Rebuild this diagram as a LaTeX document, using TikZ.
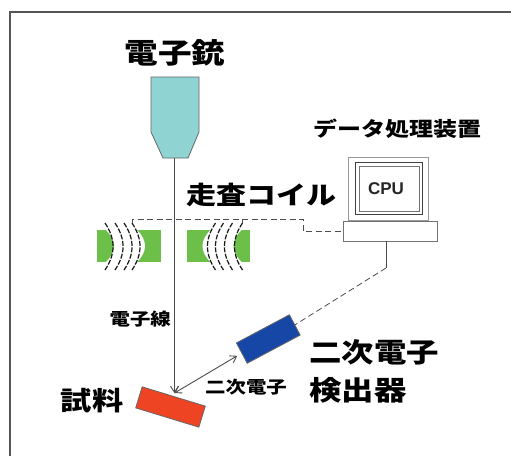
\documentclass[tikz,border=0pt]{standalone}
\usepackage{fontspec}
\usetikzlibrary{arrows.meta}
\setmainfont{Liberation Sans}
\newfontfamily\jp[FakeStretch=1.2]{Noto Sans CJK JP}
\definecolor{gunfill}{HTML}{8FD3D3}
\definecolor{coilgreen}{HTML}{6CC04A}
\definecolor{detblue}{HTML}{1747A6}
\definecolor{samplered}{HTML}{EE4423}
\definecolor{framegray}{HTML}{555555}
\begin{document}
\begin{tikzpicture}[x=1pt,y=-1pt,
  jpt/.style={font=\jp\bfseries\fontsize{#1}{#1}\selectfont, inner sep=0pt},
  wire/.style={draw=black!70, line width=0.8pt, dash pattern=on 6pt off 3.5pt},
  beam/.style={draw=black!70, line width=0.9pt},
  barb/.tip={Straight Barb[length=6pt,width=8pt]},
  coilarc/.style={draw=black!90, line width=1.2pt, dash pattern=on 5pt off 1.5pt},
  box/.style={draw=black!60, line width=0.8pt, inner sep=0pt},
]
\useasboundingbox (0,0) rectangle (511,455);
\fill[white] (0,0) rectangle (511,455);
\draw[framegray, line width=1.5pt] (10,456) -- (10,12) -- (512,12);

% electron gun
\draw[fill=gunfill, draw=black!60, line width=0.8pt]
  (151,77) -- (199,77) -- (199,132) -- (188,158) -- (163,158) -- (151,132) -- cycle;
\coordinate (gunout) at (174.5,158);
\node[jpt=28] (gunlbl) at (175,53) {電子銃};

% scanning coils: green yokes with a curved gap holding the windings
\fill[coilgreen] (97,230) rectangle (161,262);
\fill[white] (106,230) .. controls (116.7,240.7) and (116.7,251.3) .. (106,262)
  -- (137,262) .. controls (147.7,251.3) and (147.7,240.7) .. (137,230) -- cycle;
\foreach \x in {105,115,124,132}
  \draw[coilarc] (\x,223) .. controls (\x+10.7,239) and (\x+10.7,254) .. (\x,270);
\fill[coilgreen] (187,230) rectangle (250,262);
\fill[white] (241.5,230) .. controls (230.8,240.7) and (230.8,251.3) .. (241.5,262)
  -- (210.5,262) .. controls (199.8,251.3) and (199.8,240.7) .. (210.5,230) -- cycle;
\foreach \x in {215.5,223.5,232.5,242.5}
  \draw[coilarc] (\x,223) .. controls (\x-10.7,239) and (\x-10.7,254) .. (\x,270);
\coordinate (lcoil) at (132,223);
\coordinate (rcoil) at (242.5,223);
\node[jpt=25] (coillbl) at (261,195) {走査コイル};

% data processing unit
\node[draw=black!40, line width=0.7pt, minimum width=80, minimum height=63, inner sep=0pt] (monitor) at (388,188.5) {};
\node[draw=black!75, line width=1.4pt, minimum width=67, minimum height=52, inner sep=0pt] (screen) at (389,188.5) {};
\node[draw=black!55, line width=0.5pt, minimum width=60, minimum height=45, inner sep=0pt] (glass) at (screen.center) {};
\node[font=\bfseries\fontsize{17}{17}\selectfont, text=black!85, inner sep=0pt] (cpu) at (386,189) {CPU};
\node[box, draw=black!55, fill=white, minimum width=94, minimum height=20] (base) at (390,231) {};
\node[jpt=20] (dplbl) at (397,129) {データ処理装置};

% coil wiring
\coordinate (wbend) at (303,219);
\draw[wire] (lcoil) |- (wbend) |- (base.west);
\draw[wire] (rcoil) -- (rcoil |- wbend);

% detector and sample
\node[box, fill=detblue, rotate=28, minimum width=60, minimum height=23] (det) at (268.3,339) {};
\node[box, fill=samplered, rotate=-17, minimum width=66, minimum height=22] (sample) at (170.5,407) {};
\coordinate (hit) at (174.5,393);
\coordinate (jog) at (386,268);
\draw[beam] (jog |- base.south) -- (jog);
\draw[wire] (jog) -- (det.east);

% electron beam and secondary electrons
\draw[beam, -barb] (gunout) -- (hit);
\draw[beam, barb-barb, shorten >=5pt] (hit) -- (det.west);

% labels
\node[jpt=17, anchor=east] (beamlbl) at (171,319) {電子線};
\node[jpt=17] (selbl) at (246,387) {二次電子};
\node[jpt=26] (samplelbl) at (92,401) {試料};
\node[font=\jp\bfseries\fontsize{27}{38}\selectfont, inner sep=0pt, align=left, anchor=west] (detlbl) at (309,371) {二次電子\\検出器};
\end{tikzpicture}
\end{document}
